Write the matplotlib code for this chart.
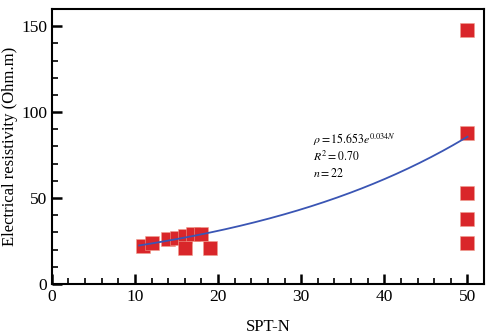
import numpy as np
import matplotlib.pyplot as plt
from matplotlib.ticker import MultipleLocator

plt.rcParams['font.family'] = ['Liberation Serif', 'DejaVu Serif']
plt.rcParams['mathtext.fontset'] = 'stix'

# SPT-N vs resistivity observations
spt_n = [11, 12, 14, 15, 16, 16, 17, 18, 19, 50, 50, 50, 50, 50]
resistivity = [22, 24, 26, 27, 28, 21, 29, 29, 21, 148, 88, 53, 38, 24]

# exponential fit rho = a * exp(b * N)
fit_a = 15.653
fit_b = 0.034
fit_range = (10.5, 50)

fig = plt.figure(figsize=(4.94, 3.34), dpi=100)
ax = fig.add_axes([0.105, 0.150, 0.875, 0.823])

n_fit = np.linspace(fit_range[0], fit_range[1], 200)
ax.plot(n_fit, fit_a * np.exp(fit_b * n_fit), color='#3a55b4', lw=1.3, zorder=3)
ax.plot(spt_n, resistivity, 's', color='#d9262a', mec='#f0a090', mew=0.4,
        ms=10, ls='none', clip_on=False, zorder=2)

ax.set_xlim(0, 52)
ax.set_ylim(0, 160)
ax.xaxis.set_major_locator(MultipleLocator(10))
ax.xaxis.set_minor_locator(MultipleLocator(2))
ax.yaxis.set_major_locator(MultipleLocator(50))
ax.yaxis.set_minor_locator(MultipleLocator(10))
ax.tick_params(which='both', direction='in', labelsize=12.5, width=1.2)
ax.tick_params(which='major', length=7, width=1.8)
ax.tick_params(which='minor', length=4)
for s in ax.spines.values():
    s.set_linewidth(1.5)

ax.set_xlabel('SPT-N', fontsize=12, labelpad=10)
ax.set_ylabel('Electrical resistivity (Ohm.m)', fontsize=12, labelpad=2)

ax.text(0.605, 0.51, r'$\rho = 15.653e^{0.034N}$', transform=ax.transAxes, fontsize=8.5)
ax.text(0.605, 0.448, r'$R^{2} = 0.70$', transform=ax.transAxes, fontsize=8.5)
ax.text(0.605, 0.388, r'$n = 22$', transform=ax.transAxes, fontsize=8.5)

fig.savefig('out.png', dpi=100)
